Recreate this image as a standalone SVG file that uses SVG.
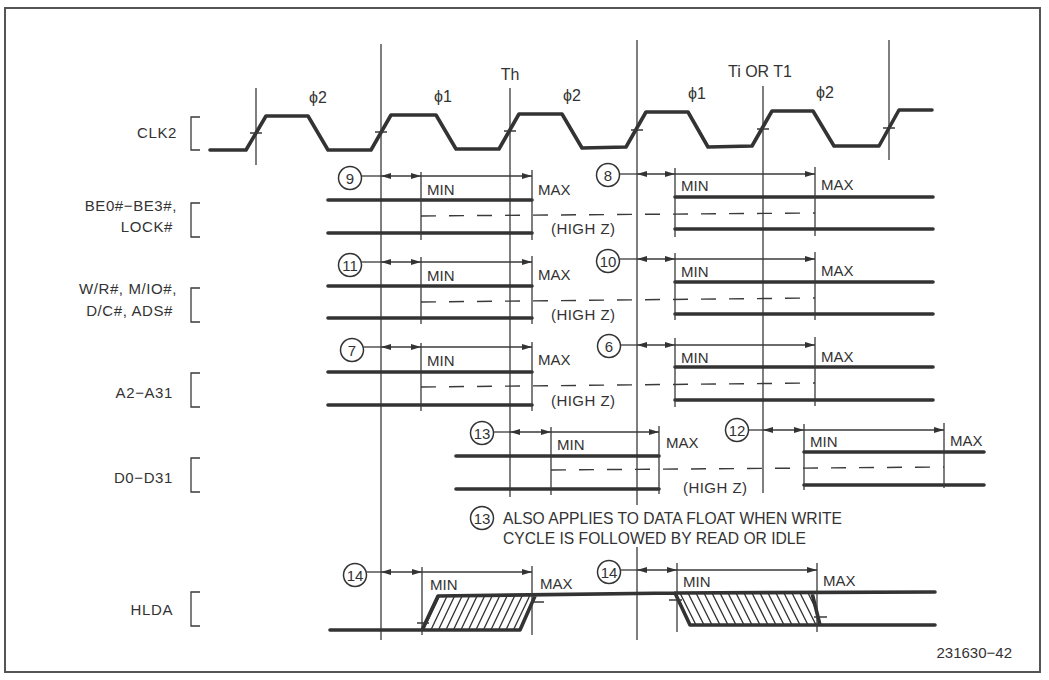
<svg xmlns="http://www.w3.org/2000/svg" width="1049" height="680" viewBox="0 0 1049 680">
<style>
text{font-family:"Liberation Sans",Arial,sans-serif;fill:#333;}
.lbl{font-size:15px;text-anchor:end;letter-spacing:0.6px;}
.mm{font-size:15px;}
.hz{font-size:15px;}
.ph{font-size:16px;text-anchor:middle;}
.num{font-size:15px;text-anchor:middle;}
.note{font-size:17px;}
.thin{stroke:#3a3a3a;stroke-width:1.3;fill:none;}
.thick{stroke:#333;stroke-width:3.6;fill:none;stroke-linecap:round;stroke-linejoin:round;}
.dash{stroke:#3a3a3a;stroke-width:1.4;fill:none;stroke-dasharray:15 13;}
.circ{stroke:#333;stroke-width:1.5;fill:#fff;}
.arr2{stroke:#3a3a3a;stroke-width:1.3;fill:none;marker-start:url(#ah);marker-end:url(#ah);}
.arr1{stroke:#3a3a3a;stroke-width:1.3;fill:none;marker-end:url(#ah);}
.hatch{stroke:#333;stroke-width:1.3;}
</style>
<defs>
<marker id="ah" viewBox="0 0 10 6" refX="10" refY="3" markerWidth="10" markerHeight="6" markerUnits="userSpaceOnUse" orient="auto-start-reverse">
<path d="M0,0 L10,3 L0,6 z" fill="#333"/>
</marker>
<clipPath id="h1"><polygon points="422,630 438,596 535,596 520,630"/></clipPath>
<clipPath id="h2"><polygon points="675,593 812,593 820,625 690,625"/></clipPath>
</defs>
<rect x="5" y="8" width="1035" height="664" fill="#fff" stroke="#555" stroke-width="2"/>

<g id="gridlines">
<line class="thin" x1="256" y1="88" x2="256" y2="165"/>
<line class="thin" x1="381" y1="44" x2="381" y2="640"/>
<line class="thin" x1="510" y1="88" x2="510" y2="497"/>
<line class="thin" x1="637" y1="40" x2="637" y2="505"/>
<line class="thin" x1="637" y1="547" x2="637" y2="640"/>
<line class="thin" x1="763" y1="86" x2="763" y2="493"/>
<line class="thin" x1="889" y1="40" x2="889" y2="160"/>
</g>

<g id="phase-labels">
<text class="ph" x="318" y="103">ϕ2</text>
<text class="ph" x="443" y="102">ϕ1</text>
<text class="ph" x="510" y="80">Th</text>
<text class="ph" x="572" y="101">ϕ2</text>
<text class="ph" x="697" y="99">ϕ1</text>
<text class="ph" x="760" y="77">Ti OR T1</text>
<text class="ph" x="825" y="98">ϕ2</text>
</g>

<g id="labels">
<text class="lbl" x="177" y="138">CLK2</text>
<path class="thin" d="M200,117 H191 V150 H200"/>
<text class="lbl" x="177" y="211">BE0#−BE3#,</text>
<text class="lbl" x="173" y="232">LOCK#</text>
<path class="thin" d="M200,203 H191 V237 H200"/>
<text class="lbl" x="177" y="294">W/R#, M/IO#,</text>
<text class="lbl" x="173" y="316">D/C#, ADS#</text>
<path class="thin" d="M200,288 H191 V322 H200"/>
<text class="lbl" x="173" y="398">A2−A31</text>
<path class="thin" d="M200,373 H191 V407 H200"/>
<text class="lbl" x="173" y="483">D0−D31</text>
<path class="thin" d="M200,458 H191 V492 H200"/>
<text class="lbl" x="173" y="615">HLDA</text>
<path class="thin" d="M200,592 H191 V626 H200"/>
</g>

<g id="clk2">
<path class="thick" d="M210,150 L246,150 L266,116 L308,116 L328,150 L371,150 L391,115 L436,115 L456,149 L499,149 L519,114 L562,114 L582,148 L626,147 L646,112 L688,112 L708,147 L752,146 L772,111 L813,111 L834,146 L879,146 L899,110 L932,110"/>
<path class="thin" d="M250,133 H262 M375,132 H387 M504,131 H516 M631,130 H643 M757,129 H769 M883,128 H895"/>
</g>

<g id="row-be">
<path class="thick" d="M328,200 H532 M328,233 H532 M675,197 H933 M675,229 H933"/>
<line class="dash" x1="421" y1="216" x2="815" y2="213"/>
<path class="thin" d="M421,172 V240 M532,170 V240 M675,168 V237 M815,167 V236"/>
<circle class="circ" cx="350" cy="178" r="11.5"/><text class="num" x="350" y="183.5">9</text>
<line class="thin" x1="361.5" y1="176" x2="381" y2="176"/>
<line class="arr2" x1="381" y1="176" x2="421" y2="176"/>
<line class="arr1" x1="421" y1="176" x2="532" y2="176"/>
<text class="mm" x="427" y="195">MIN</text><text class="mm" x="538" y="195">MAX</text>
<circle class="circ" cx="608" cy="175" r="11.5"/><text class="num" x="608" y="180.5">8</text>
<line class="thin" x1="619.5" y1="174" x2="637" y2="174"/>
<line class="arr2" x1="637" y1="174" x2="675" y2="174"/>
<line class="arr1" x1="675" y1="174" x2="815" y2="174"/>
<text class="mm" x="681" y="191">MIN</text><text class="mm" x="821" y="190">MAX</text>
<text class="hz" x="551" y="234" textLength="64">(HIGH Z)</text>
</g>

<g id="row-wr">
<path class="thick" d="M328,286 H532 M328,318 H532 M675,282 H933 M675,314 H933"/>
<line class="dash" x1="421" y1="302" x2="815" y2="298"/>
<path class="thin" d="M421,257 V324 M532,256 V324 M675,253 V320 M815,252 V320"/>
<circle class="circ" cx="350" cy="265" r="11.5"/><text class="num" x="350" y="270.5">11</text>
<line class="thin" x1="361.5" y1="262" x2="381" y2="262"/>
<line class="arr2" x1="381" y1="262" x2="421" y2="262"/>
<line class="arr1" x1="421" y1="262" x2="532" y2="262"/>
<text class="mm" x="427" y="281">MIN</text><text class="mm" x="538" y="280">MAX</text>
<circle class="circ" cx="608" cy="261" r="11.5"/><text class="num" x="608" y="266.5">10</text>
<line class="thin" x1="619.5" y1="259" x2="637" y2="259"/>
<line class="arr2" x1="637" y1="259" x2="675" y2="259"/>
<line class="arr1" x1="675" y1="259" x2="815" y2="259"/>
<text class="mm" x="681" y="277">MIN</text><text class="mm" x="821" y="276">MAX</text>
<text class="hz" x="551" y="320" textLength="64">(HIGH Z)</text>
</g>

<g id="row-addr">
<path class="thick" d="M328,372 H532 M328,405 H532 M675,367 H933 M675,400 H933"/>
<line class="dash" x1="421" y1="387" x2="815" y2="383"/>
<path class="thin" d="M421,343 V411 M532,342 V411 M675,338 V407 M815,337 V406"/>
<circle class="circ" cx="352" cy="350" r="11.5"/><text class="num" x="352" y="355.5">7</text>
<line class="thin" x1="363.5" y1="347" x2="381" y2="347"/>
<line class="arr2" x1="381" y1="347" x2="421" y2="347"/>
<line class="arr1" x1="421" y1="347" x2="532" y2="347"/>
<text class="mm" x="427" y="366">MIN</text><text class="mm" x="538" y="365">MAX</text>
<circle class="circ" cx="609" cy="346" r="11.5"/><text class="num" x="609" y="351.5">6</text>
<line class="thin" x1="620.5" y1="345" x2="637" y2="345"/>
<line class="arr2" x1="637" y1="345" x2="675" y2="345"/>
<line class="arr1" x1="675" y1="345" x2="815" y2="345"/>
<text class="mm" x="681" y="363">MIN</text><text class="mm" x="821" y="362">MAX</text>
<text class="hz" x="551" y="406" textLength="64">(HIGH Z)</text>
</g>

<g id="row-data">
<path class="thick" d="M456,456 H659 M456,489 H659 M804,452 H984 M804,485 H984"/>
<line class="dash" x1="551" y1="470" x2="944" y2="467"/>
<path class="thin" d="M551,427 V495 M659,426 V494 M804,424 V490 M944,423 V488"/>
<circle class="circ" cx="482" cy="433" r="11.5"/><text class="num" x="482" y="438.5">13</text>
<line class="thin" x1="493.5" y1="432" x2="510" y2="432"/>
<line class="arr2" x1="510" y1="432" x2="551" y2="432"/>
<line class="arr1" x1="551" y1="432" x2="659" y2="432"/>
<text class="mm" x="557" y="450">MIN</text><text class="mm" x="666" y="448">MAX</text>
<circle class="circ" cx="737" cy="430" r="11.5"/><text class="num" x="737" y="435.5">12</text>
<line class="thin" x1="748.5" y1="430" x2="763" y2="430"/>
<line class="arr2" x1="763" y1="430" x2="804" y2="430"/>
<line class="arr1" x1="804" y1="430" x2="944" y2="430"/>
<text class="mm" x="810" y="447">MIN</text><text class="mm" x="950" y="446">MAX</text>
<text class="hz" x="683" y="493" textLength="64">(HIGH Z)</text>
</g>

<g id="note">
<circle class="circ" cx="482" cy="518" r="11.5"/><text class="num" x="482" y="523.5">13</text>
<text class="note" x="503" y="524" textLength="339" lengthAdjust="spacingAndGlyphs">ALSO APPLIES TO DATA FLOAT WHEN WRITE</text>
<text class="note" x="503" y="544" textLength="303" lengthAdjust="spacingAndGlyphs">CYCLE IS FOLLOWED BY READ OR IDLE</text>
</g>

<g id="row-hlda">
<g clip-path="url(#h1)" class="hatch">
<path d="M414,634 L434,592 M421.5,634 L441.5,592 M429,634 L449,592 M436.5,634 L456.5,592 M444,634 L464,592 M451.5,634 L471.5,592 M459,634 L479,592 M466.5,634 L486.5,592 M474,634 L494,592 M481.5,634 L501.5,592 M489,634 L509,592 M496.5,634 L516.5,592 M504,634 L524,592 M511.5,634 L531.5,592 M519,634 L539,592"/>
</g>
<g clip-path="url(#h2)" class="hatch">
<path d="M670,589 L690,629 M678,589 L698,629 M686,589 L706,629 M694,589 L714,629 M702,589 L722,629 M710,589 L730,629 M718,589 L738,629 M726,589 L746,629 M734,589 L754,629 M742,589 L762,629 M750,589 L770,629 M758,589 L778,629 M766,589 L786,629 M774,589 L794,629 M782,589 L802,629 M790,589 L810,629 M798,589 L818,629 M806,589 L826,629"/>
</g>
<path class="thick" d="M330,630 H422 L438,596 L675,593 L935,592 M422,630 H520 L535,596 M675,593 L690,625 H935 M812,593 L820,625"/>
<path class="thin" d="M417,623 H429 M532,602 H544 M669,600 H682 M814,617 H827"/>
<path class="thin" d="M422,567 V635 M532,566 V635 M677,563 V632 M817,563 V632"/>
<circle class="circ" cx="355" cy="575" r="11.5"/><text class="num" x="355" y="580.5">14</text>
<line class="thin" x1="366.5" y1="572" x2="381" y2="572"/>
<line class="arr2" x1="381" y1="572" x2="422" y2="572"/>
<line class="arr1" x1="422" y1="572" x2="532" y2="572"/>
<text class="mm" x="430" y="590">MIN</text><text class="mm" x="540" y="589">MAX</text>
<circle class="circ" cx="609" cy="572" r="11.5"/><text class="num" x="609" y="577.5">14</text>
<line class="thin" x1="620.5" y1="570" x2="637" y2="570"/>
<line class="arr2" x1="637" y1="570" x2="677" y2="570"/>
<line class="arr1" x1="677" y1="570" x2="817" y2="570"/>
<text class="mm" x="683" y="587">MIN</text><text class="mm" x="823" y="586">MAX</text>
</g>

<text x="1012" y="658" style="font-size:15px;text-anchor:end;">231630−42</text>
</svg>
